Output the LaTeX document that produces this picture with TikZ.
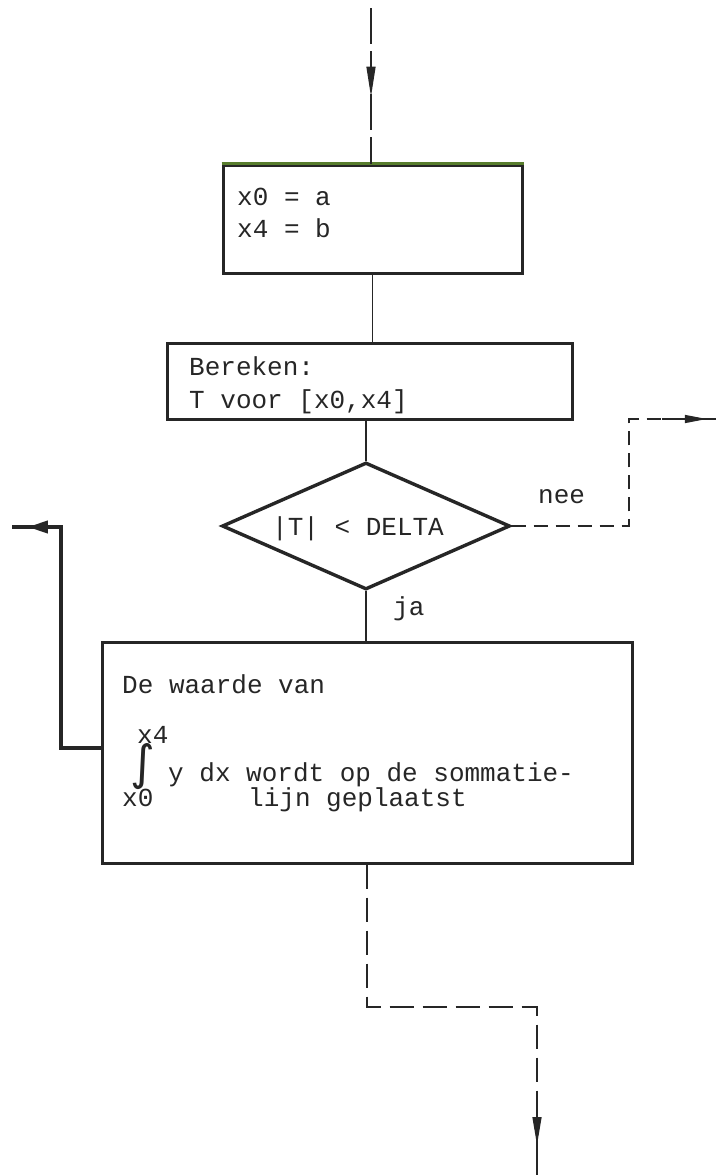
\documentclass[tikz,border=0pt]{standalone}
\usepackage{fontspec}
\newfontfamily\tw{Liberation Mono}
\newfontfamily\djv{DejaVu Sans}
\usetikzlibrary{shapes.geometric,arrows.meta,decorations.markings}
\definecolor{ink}{HTML}{262626}
\definecolor{olivetop}{RGB}{88,125,45}
\begin{document}
\begin{tikzpicture}[x=1pt,y=-1pt,
  txt/.style={anchor=base west,inner sep=0pt,font=\tw\fontsize{26}{30}\selectfont,text=ink},
  box/.style={draw=ink,line width=3pt,rectangle,inner sep=0pt},
  dec/.style={draw=ink,line width=3.4pt,diamond,inner sep=0pt},
  conn/.style={draw=ink,line width=1.4pt},
  dconn/.style={conn,dash pattern=on 14pt off 8pt},
  ddconn/.style={conn,dash pattern=on 24pt off 9pt},
  heavy/.style={draw=ink,line width=3.6pt,line join=miter},
  tip/.style n args={3}{postaction={decorate},decoration={markings,mark=at position #1 with {\arrow[ink]{Triangle[length=#2,width=#3]}}}}
]
\useasboundingbox[fill=white] (0,0) rectangle (716,1175);

% boxes
\node[box,minimum width=299pt,minimum height=108pt] (b1) at (372.5,219) {};
\draw[olivetop,line width=3pt] (b1.north west) -- (b1.north east);
\node[box,minimum width=405pt,minimum height=76pt] (b2) at (369.5,381) {};
\node[dec,minimum width=288pt,minimum height=127pt] (d) at (366,526) {};
\node[box,minimum width=530pt,minimum height=221pt] (b3) at (367,752.5) {};

% texts
\node[txt] (t1) at (237,205) {x0 = a};
\node[txt] (t2) at (237,237) {x4 = b};
\node[txt] (t3) at (189,375) {Bereken:};
\node[txt] (t4) at (189,408) {T voor [x0,x4]};
\node[txt] (t5) at (272,535) {|T| < DELTA};
\node[txt] (nee) at (538,503) {nee};
\node[txt] (ja) at (393,615) {ja};
\node[txt] (t6) at (122,693) {De waarde van};
\node[txt] (up) at (137,743) {x4};
\node[inner sep=0pt,text=ink] (int) at (143,767) {\resizebox{!}{36pt}{\djv ∫}};
\node[txt] (t7) at (168,781) {y dx wordt op de sommatie-};
\node[txt] (lo) at (122,806) {x0};
\node[txt] (t8) at (248,806) {lijn geplaatst};

% connectors
\coordinate (start) at (371,8);
\draw[conn,dash pattern=on 36pt off 7pt,tip={0.57}{30pt}{9pt}] (start) -- (start |- b1.north);
\draw[conn] (b1.south) -- (b1.south |- b2.north);
\draw[conn] (d.north |- b2.south) -- (d.north);
\draw[conn] (d.south) -- (d.south |- b3.north);

% nee branch
\coordinate (n1) at (629,526);
\coordinate (n2) at (629,419);
\coordinate (n4) at (662,419);
\coordinate (n3) at (716,419);
\draw[dconn] (d.east) -- (n1) -- (n2) -- (n4);
\draw[conn,tip={0.83}{22pt}{8pt}] (n4) -- (n3);

% left loop
\coordinate (l1) at (61,748);
\coordinate (l2) at (61,527);
\coordinate (l3) at (12,527);
\draw[heavy,tip={0.949}{20pt}{12pt}] (b3.west |- l1) -- (l1) -- (l2) -- (l3);

% bottom branch
\coordinate (m1) at (367,1007);
\coordinate (m2) at (537,1007);
\coordinate (m5) at (537,1115);
\coordinate (m3) at (537,1175);
\draw[ddconn] (b3.south) -- (m1) -- (m2) -- (m5);
\draw[conn,tip={0.5}{28pt}{9pt}] (m5) -- (m3);
\end{tikzpicture}
\end{document}
